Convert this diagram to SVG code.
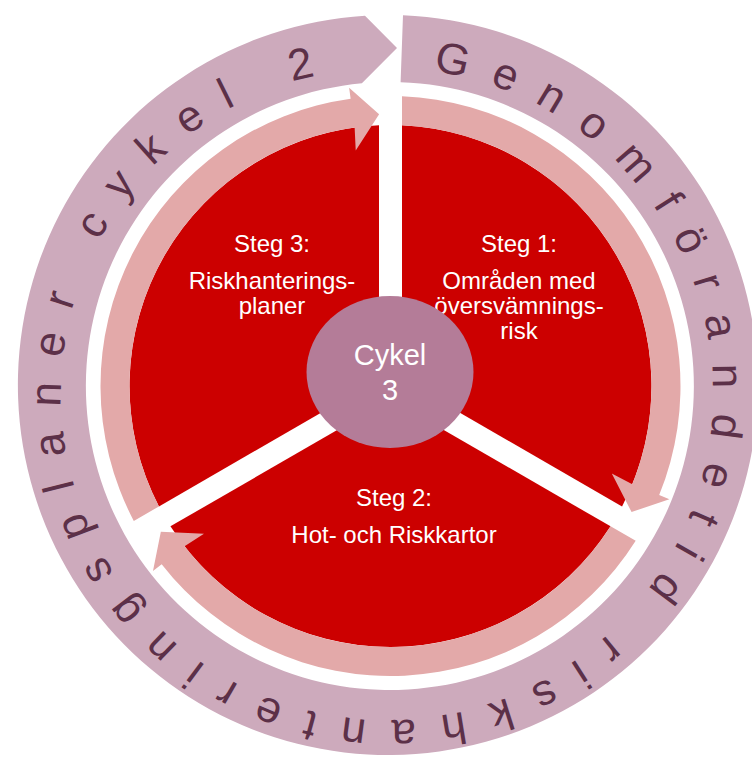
<svg xmlns="http://www.w3.org/2000/svg" xmlns:xlink="http://www.w3.org/1999/xlink" width="752" height="758" viewBox="0 0 752 758">
  <style>
    .sector { fill: #cc0000; }
    .arrow { fill: #e3a9a9; }
    .ring { fill: #cdaabc; }
    .hub { fill: #b47c98; }
    .lbl { font-family: "Liberation Sans", Arial, sans-serif; font-size: 24px; fill: #ffffff; text-anchor: middle; }
    .hubtxt { font-family: "Liberation Sans", Arial, sans-serif; font-size: 29px; fill: #ffffff; text-anchor: middle; }
    .ringtxt { font-family: "Liberation Sans", Arial, sans-serif; font-size: 44px; fill: #5c3048; letter-spacing: 24px; }
  </style>
  <defs>
    <path id="textCircle" d="M 432.37 71.17 A 326 326 0 0 1 341.63 716.83 A 326 326 0 0 1 432.37 71.17"/>
  </defs>
  <rect width="752" height="758" fill="#ffffff"/>

  <g id="outer-cycle">
    <path class="ring" d="M 403 15.3 A 370 370 0 1 1 365 15.7 L 397 48 L 361.9 83.3 A 304 304 0 1 0 400.6 82.2 Z"/>
    <text class="ringtxt"><textPath xlink:href="#textCircle" href="#textCircle">Genomförandetid riskhanteringsplaner cykel 2</textPath></text>
  </g>

  <g id="steg1">
    <path class="sector" d="M 402 379.36 L 402 125.25 A 261 261 0 0 1 622.06 506.41 Z"/>
    <text class="lbl" x="519" y="252">Steg 1:</text>
    <text class="lbl" x="519" y="289">Områden med</text>
    <text class="lbl" x="519" y="314">översvämnings-</text>
    <text class="lbl" x="519" y="339">risk</text>
  </g>

  <g id="steg2">
    <path class="sector" d="M 390.5 399.28 L 610.56 526.33 A 261 261 0 0 1 170.44 526.33 Z"/>
    <text class="lbl" x="394" y="506">Steg 2:</text>
    <text class="lbl" x="394" y="543">Hot- och Riskkartor</text>
  </g>

  <g id="steg3">
    <path class="sector" d="M 379 379.36 L 158.94 506.41 A 261 261 0 0 1 379 125.25 Z"/>
    <text class="lbl" x="272" y="252">Steg 3:</text>
    <text class="lbl" x="272" y="289">Riskhanterings-</text>
    <text class="lbl" x="272" y="314">planer</text>
  </g>

  <g id="connectors">
    <path class="arrow" d="M 402 96.23 A 290 290 0 0 1 659.19 495.10 L 669.39 499.24 L 631.55 512.02 L 611.79 473.61 L 632.32 484.19 A 261 261 0 0 0 402 125.25 Z"/>
    <path class="arrow" d="M 635.7 540.85 A 290 290 0 0 1 161.67 564.14 L 152.99 570.90 L 160.84 531.75 L 203.98 533.83 L 184.55 546.33 A 261 261 0 0 0 610.56 526.33 Z"/>
    <path class="arrow" d="M 133.8 520.93 A 290 290 0 0 1 350.64 98.75 L 349.13 87.86 L 379.11 114.24 L 355.73 150.55 L 354.63 127.48 A 261 261 0 0 0 158.94 506.41 Z"/>
  </g>

  <g id="cykel3">
    <ellipse class="hub" cx="390" cy="372" rx="83.5" ry="76"/>
    <text class="hubtxt" x="390" y="365">Cykel</text>
    <text class="hubtxt" x="390" y="400">3</text>
  </g>
</svg>
